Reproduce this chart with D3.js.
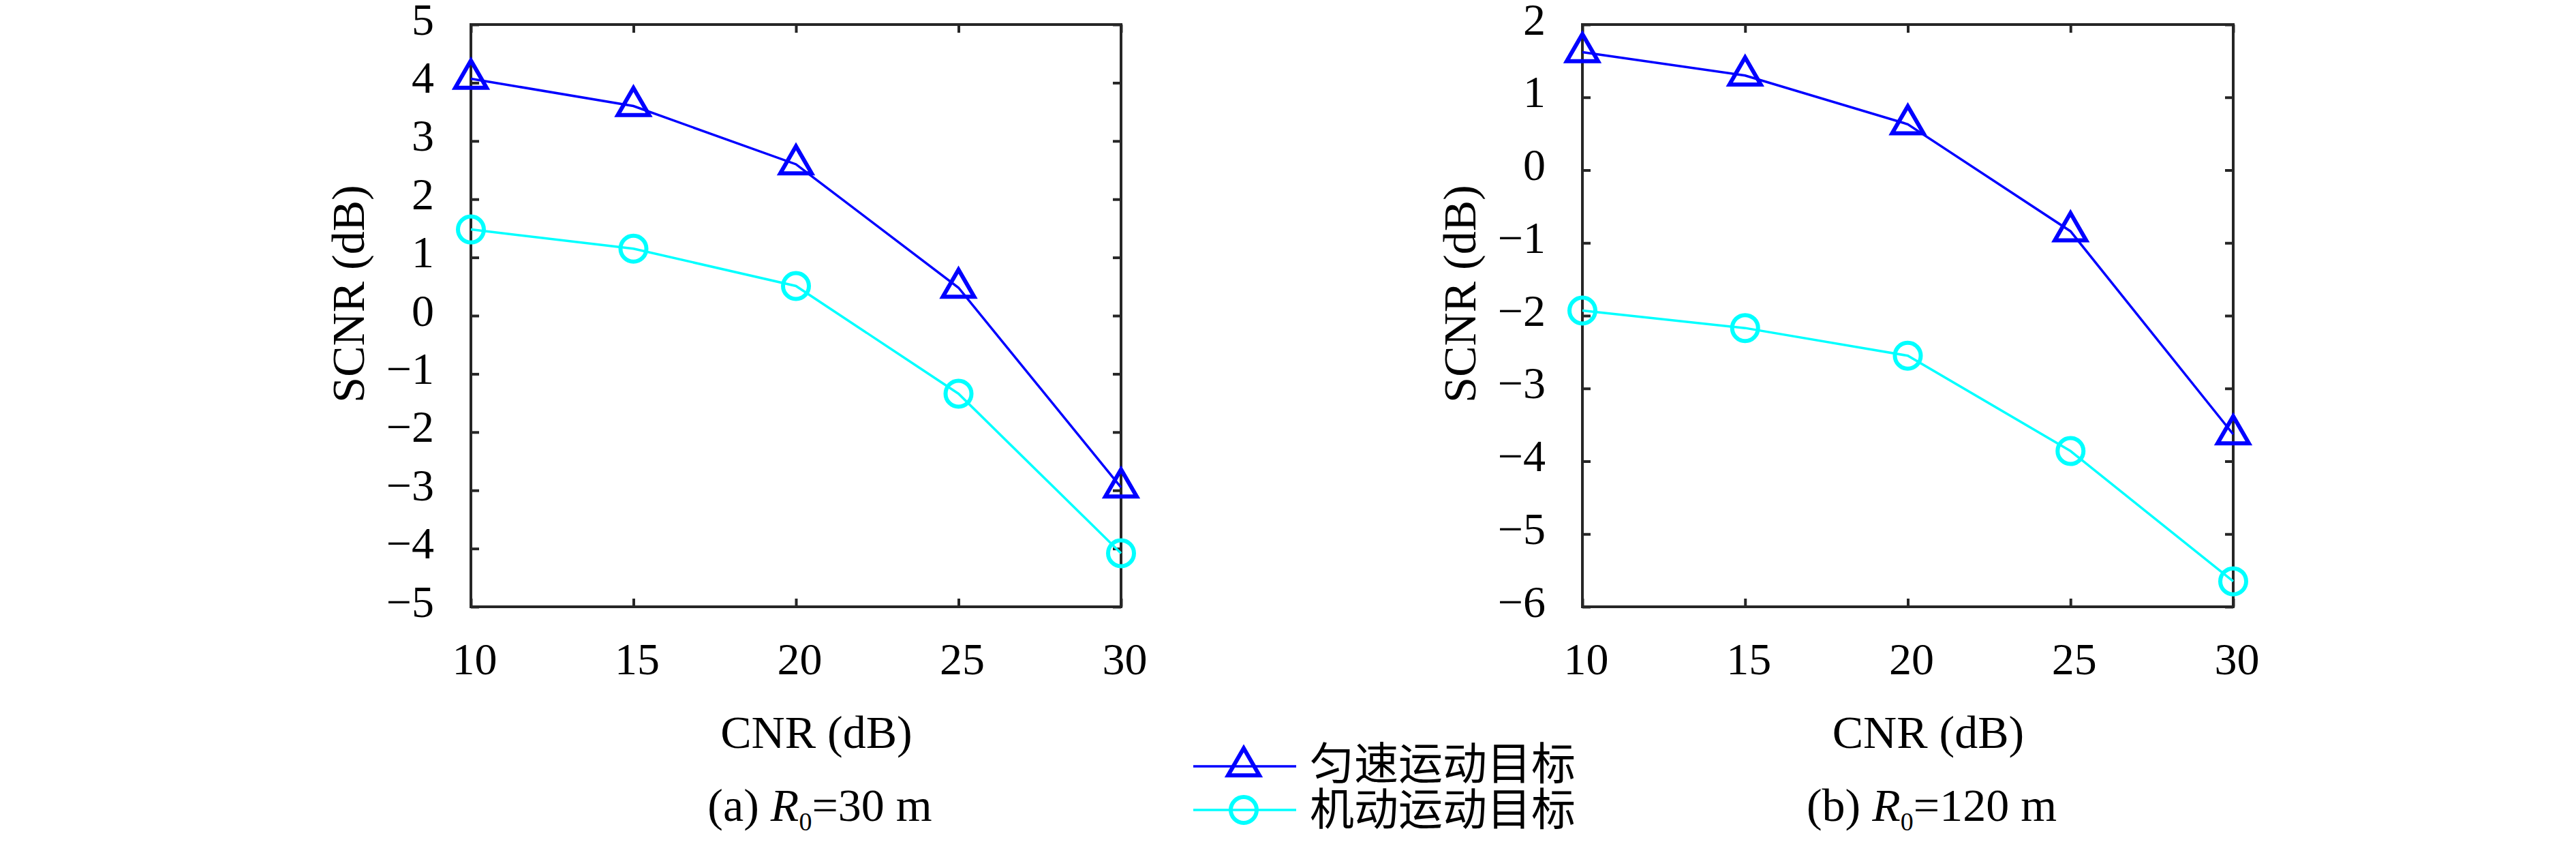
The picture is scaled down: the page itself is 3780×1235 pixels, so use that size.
<!DOCTYPE html>
<meta charset="utf-8">
<head>
<style>
  body { margin: 0; background: #fff; }
  text { font-family: "Liberation Serif", "DejaVu Serif", serif; fill: #000; }
  .cjk { font-family: "Noto Sans CJK SC", sans-serif; }
</style>
</head>
<script src="https://d3js.org/d3.v7.min.js"></script>
<body>
<div id="chart"></div>
<script>

    // values
    var cnr = [10, 15, 20, 25, 30];
    var uniformA = [4.07, 3.6, 2.6, 0.48, -2.95];
    var maneuverA = [1.48, 1.15, 0.51, -1.34, -4.08];
    var uniformB = [1.62, 1.30, 0.63, -0.84, -3.63];
    var maneuverB = [-1.93, -2.17, -2.55, -3.86, -5.65];

    var xTicks = [10, 15, 20, 25, 30];
    var yTicksA = [-5, -4, -3, -2, -1, 0, 1, 2, 3, 4, 5];
    var yTicksB = [-6, -5, -4, -3, -2, -1, 0, 1, 2];

    var seriesNames = ["匀速运动目标", "机动运动目标"];
    var captionA = {tag: "(a) ", range: "=30 m"};
    var captionB = {tag: "(b) ", range: "=120 m"};

    var blue = "#0000ff", cyan = "#00ffff", frameColor = "#262626";

    var svg = d3.select("#chart")
      .append("svg")
        .attr("width", 3780)
        .attr("height", 1235);

    var top0 = 36, bottom0 = 890;

    function minusFmt(d) {
        return d < 0 ? "\u2212" + Math.abs(d) : "" + d;
    }

    function drawPanel(left, right, yDomain, yTicks, uni, man, caption) {
        var x = d3.scaleLinear().domain([10, 30]).range([left, right]);
        var y = d3.scaleLinear().domain(yDomain).range([bottom0, top0]);
        var g = svg.append("g");

        // inner ticks on all four sides
        var bottomAxis = g.append("g")
            .attr("transform", "translate(0," + bottom0 + ")")
            .call(d3.axisBottom(x).tickValues(xTicks).tickSize(-12).tickPadding(0).tickFormat(minusFmt));
        var topAxis = g.append("g")
            .attr("transform", "translate(0," + top0 + ")")
            .call(d3.axisTop(x).tickValues(xTicks).tickSize(-12).tickFormat(""));
        var leftAxis = g.append("g")
            .attr("transform", "translate(" + left + ",0)")
            .call(d3.axisLeft(y).tickValues(yTicks).tickSize(-12).tickFormat(minusFmt));
        var rightAxis = g.append("g")
            .attr("transform", "translate(" + right + ",0)")
            .call(d3.axisRight(y).tickValues(yTicks).tickSize(-12).tickFormat(""));

        [bottomAxis, topAxis, leftAxis, rightAxis].forEach(function(a) {
            a.select(".domain").remove();
            a.selectAll(".tick line").attr("stroke", frameColor).attr("stroke-width", 4);
        });

        bottomAxis.selectAll("text")
            .attr("y", 99).attr("dy", null).attr("dx", 5)
            .style("font-size", "66px").attr("font-family", null);
        leftAxis.selectAll("text")
            .attr("x", -54).attr("dy", null).attr("y", 14)
            .style("font-size", "66px").attr("font-family", null);

        g.append("rect")
            .attr("x", left).attr("y", top0)
            .attr("width", right - left).attr("height", bottom0 - top0)
            .attr("fill", "none").attr("stroke", frameColor).attr("stroke-width", 4);

        var line = d3.line()
            .x(function(d, i) { return x(cnr[i]); })
            .y(function(d) { return y(d); });

        g.append("path").datum(man)
            .attr("d", line).attr("fill", "none")
            .attr("stroke", cyan).attr("stroke-width", 3.5);
        g.append("path").datum(uni)
            .attr("d", line).attr("fill", "none")
            .attr("stroke", blue).attr("stroke-width", 3.5);

        g.selectAll(".circ").data(man).enter()
          .append("circle")
            .attr("cx", function(d, i) { return x(cnr[i]); })
            .attr("cy", function(d) { return y(d); })
            .attr("r", 19)
            .attr("fill", "none").attr("stroke", cyan).attr("stroke-width", 6);

        g.selectAll(".tri").data(uni).enter()
          .append("path")
            .attr("d", d3.symbol(d3.symbolTriangle, 916))
            .attr("transform", function(d, i) { return "translate(" + x(cnr[i]) + "," + y(d) + ")"; })
            .attr("fill", "none").attr("stroke", blue).attr("stroke-width", 6)
            .attr("stroke-linejoin", "miter");

        var mid = (left + right) / 2;

        g.append("text")
            .attr("x", mid + 30).attr("y", 1097)
            .style("text-anchor", "middle").style("font-size", "68px")
            .text("CNR (dB)");

        g.append("text")
            .attr("transform", "translate(" + (left - 157) + "," + 431 + ") rotate(-90)")
            .style("text-anchor", "middle").style("font-size", "68px")
            .text("SCNR (dB)");

        var cap = g.append("text")
            .attr("x", mid + 35).attr("y", 1204)
            .style("text-anchor", "middle").style("font-size", "68px");
        cap.append("tspan").text(caption.tag);
        cap.append("tspan").style("font-style", "italic").text("R");
        cap.append("tspan").style("font-size", "38px").attr("dy", 14).text("0");
        cap.append("tspan").attr("dy", -14).text(caption.range);
    }

    drawPanel(691, 1645, [-5, 5], yTicksA, uniformA, maneuverA, captionA);
    drawPanel(2322, 3277, [-6, 2], yTicksB, uniformB, maneuverB, captionB);

    // legend (no box), between the panels
    var legend = svg.append("g");
    var legendRows = [
        {name: seriesNames[0], color: blue, marker: "tri", y: 1124, ty: 1115},
        {name: seriesNames[1], color: cyan, marker: "circ", y: 1188, ty: 1182}
    ];
    legendRows.forEach(function(r) {
        legend.append("line")
            .attr("x1", 1751).attr("x2", 1902)
            .attr("y1", r.y).attr("y2", r.y)
            .attr("stroke", r.color).attr("stroke-width", 3.5);
        if (r.marker == "tri") {
            legend.append("path")
                .attr("d", d3.symbol(d3.symbolTriangle, 916))
                .attr("transform", "translate(1825," + r.y + ")")
                .attr("fill", "none").attr("stroke", r.color).attr("stroke-width", 6);
        } else {
            legend.append("circle")
                .attr("cx", 1825).attr("cy", r.y).attr("r", 19)
                .attr("fill", "none").attr("stroke", r.color).attr("stroke-width", 6);
        }
        legend.append("text")
            .attr("class", "cjk")
            .attr("x", 1922).attr("y", r.ty)
            .attr("dominant-baseline", "central")
            .style("font-size", "65px")
            .text(r.name);
    });

</script>
</body>
